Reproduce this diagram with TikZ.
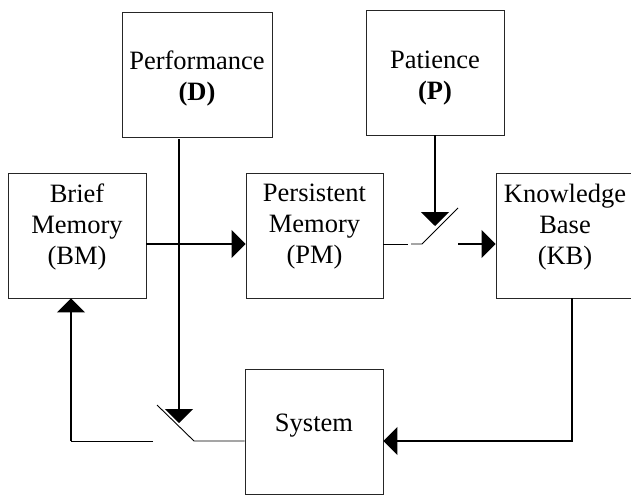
\documentclass[tikz,border=0pt]{standalone}
\usepackage{fontspec}
\setmainfont{Liberation Serif}
\usetikzlibrary{arrows.meta}
\begin{document}
\begin{tikzpicture}[x=1pt,y=-1pt,
  box/.style={draw=black!85, line width=0.9pt, rectangle, inner sep=0pt,
    minimum height=125pt},
  txt/.style={inner sep=0pt, align=center,
    font=\fontsize{26.5}{31}\selectfont},
  conn/.style={line width=1.6pt},
  thin/.style={line width=0.9pt},
  tip/.style={-{Triangle[length=14pt,width=28pt]}}
]
\useasboundingbox (0,0) rectangle (631,495);
\node[box, minimum width=150pt] (perf) at (197,74.5) {};
\node[box, minimum width=138pt] (pat) at (435,72.5) {};
\node[box, minimum width=138pt] (bm) at (77,235.5) {};
\node[box, minimum width=137pt] (pm) at (314.5,235.5) {};
\node[box, minimum width=138pt] (kb) at (565,235.5) {};
\node[box, minimum width=138pt] (sys) at (314,431.5) {};

\node[txt] (perft) at (197,78.5) {Performance\\\textbf{(D)}};
\node[txt] (patt) at (435,78) {Patience\\\textbf{(P)}};
\node[txt] (bmt) at (77,227) {Brief\\Memory\\(BM)};
\node[txt] (pmt) at (314.5,227) {Persistent\\Memory\\(PM)};
\node[txt] (kbt) at (565,227) {Knowledge\\Base\\(KB)};
\node[txt] (syst) at (314,426) {System};

% named switch / free-end points
\coordinate (perftip) at (179,423);
\coordinate (pattip) at (435,226);
\coordinate (swA1) at (194,441);
\coordinate (swA2) at (157,405);
\coordinate (swA3) at (153,441);
\coordinate (corA) at (71,441);
\coordinate (swB1) at (408,244);
\coordinate (swB2) at (411,244);
\coordinate (swB3) at (422,244);
\coordinate (swB4) at (458,208);
\coordinate (swB5) at (458,244);
\coordinate (corK) at (572,441);

% BM -> PM
\draw[conn, tip] (bm.east |- 0,244) -- (pm.west |- 0,244);
% Performance down
\draw[conn, tip] (179,139) -- (perftip);
% Patience down
\draw[conn, tip] (pat.south) -- (pattip);
% PM -> switch -> KB
\draw[thin] (pm.east |- 0,244) -- (swB1);
\draw[thin] (swB2) -- (swB3) -- (swB4);
\draw[conn, tip] (swB5) -- (kb.west |- 0,244);
% KB -> System
\draw[conn, tip] (kb.south -| corK) -- (corK) -- (sys.east |- 0,441);
% System -> switch -> BM
\draw[thin] (sys.west |- 0,441) -- (swA1) -- (swA2);
\draw[thin] (swA3) -- (corA);
\draw[conn, tip] (corA) -- (bm.south -| corA);
\end{tikzpicture}
\end{document}
